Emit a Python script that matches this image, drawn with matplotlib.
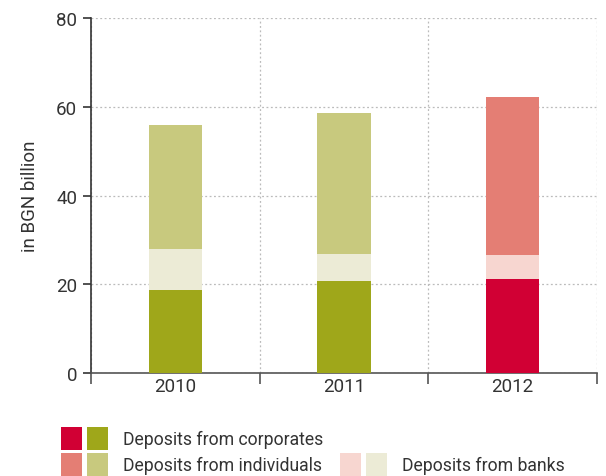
import matplotlib.pyplot as plt
from matplotlib.patches import Rectangle

years = ["2010", "2011", "2012"]
corporates = [18.7, 20.7, 21.2]
banks = [9.2, 6.1, 5.4]
individuals = [28.0, 31.8, 35.6]

green = {"corp": "#9fa71a", "banks": "#ecebd6", "ind": "#c8c97e"}
red = {"corp": "#d10034", "banks": "#f7d6d0", "ind": "#e47e74"}
bar_colors = [green, green, red]

plt.rcParams["font.family"] = ["Roboto", "DejaVu Sans"]

W, H = 606, 477
fig = plt.figure(figsize=(W / 100, H / 100), dpi=100)
ax = fig.add_axes([91 / W, 1 - 374 / H, (597 - 91) / W, (374 - 19) / H])

text_color = "#333333"
x = list(range(len(years)))
bottom2 = [c + b for c, b in zip(corporates, banks)]
ax.bar(x, corporates, width=0.315, color=[c["corp"] for c in bar_colors], zorder=3)
ax.bar(x, banks, bottom=corporates, width=0.315, color=[c["banks"] for c in bar_colors], zorder=3)
ax.bar(x, individuals, bottom=bottom2, width=0.315, color=[c["ind"] for c in bar_colors], zorder=3)

ax.set_xlim(-0.5, 2.5)
ax.set_ylim(0, 80)
ax.set_yticks([0, 20, 40, 60, 80])
ax.set_xticks([-0.5, 0.5, 1.5, 2.5])
ax.set_xticklabels([])
ax.set_xticks(x, minor=True)
ax.set_xticklabels(years, minor=True)
ax.tick_params(axis="x", which="major", length=8, width=1.2, color="#555555", direction="out")
ax.tick_params(axis="x", which="minor", length=0, labelsize=13.5, labelcolor=text_color, pad=3)
ax.tick_params(axis="y", length=6, width=1.2, color="#333333", labelsize=13.5, labelcolor=text_color, pad=4)

ax.grid(True, which="major", color="#bbbbbb", linestyle=(0, (1.5, 2)), linewidth=0.9, zorder=0)
for side in ["top", "right"]:
    ax.spines[side].set_visible(False)
ax.spines["left"].set_color("#333333")
ax.spines["left"].set_linewidth(1.2)
ax.spines["bottom"].set_color("#555555")
ax.spines["bottom"].set_linewidth(1.2)
ax.set_ylabel("in BGN billion", fontsize=13.5, color=text_color, labelpad=12)

# legend built by hand below the plot
def swatch(px, py, color):
    fig.add_artist(Rectangle((px / W, 1 - (py + 23) / H), 21 / W, 23 / H,
                             transform=fig.transFigure, color=color, lw=0))

swatch(61, 428, red["corp"])
swatch(87, 428, green["corp"])
swatch(61, 454, red["ind"])
swatch(87, 454, green["ind"])
swatch(340, 454, red["banks"])
swatch(366, 454, green["banks"])
fig.text(123 / W, 1 - 440 / H, "Deposits from corporates", fontsize=12.7, color=text_color, va="center")
fig.text(123 / W, 1 - 466 / H, "Deposits from individuals", fontsize=12.7, color=text_color, va="center")
fig.text(402 / W, 1 - 466 / H, "Deposits from banks", fontsize=12.7, color=text_color, va="center")

fig.savefig("out.png", dpi=100)
